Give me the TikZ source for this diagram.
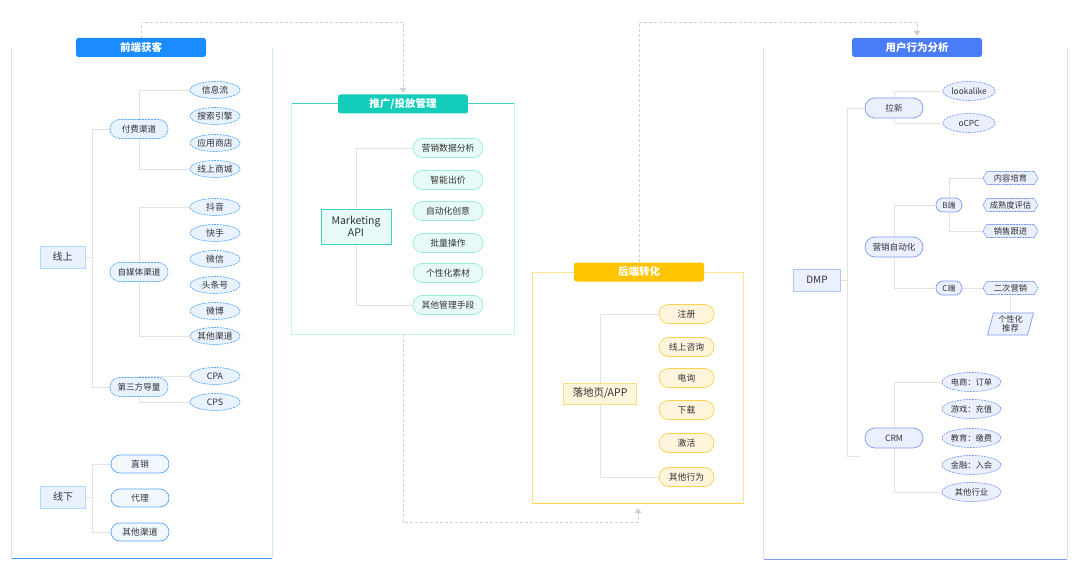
\documentclass[tikz,border=0pt]{standalone}
\usepackage{fontspec}
\setmainfont{Noto Sans CJK SC}
\usetikzlibrary{shapes.geometric,shapes.symbols,shapes.misc,arrows.meta,backgrounds,calc}
\definecolor{txt}{HTML}{333333}
\definecolor{lineg}{HTML}{E2E2E2}
\definecolor{dashg}{HTML}{D2D2D2}
\definecolor{arrg}{HTML}{CFCFCF}
% left blue
\definecolor{lH}{HTML}{1A8CFF}
\definecolor{lSide}{HTML}{CFE5FF}
\definecolor{lBot}{HTML}{3D9BFF}
\definecolor{lFill}{HTML}{E8F3FF}
\definecolor{lBord}{HTML}{56A8FF}
% teal
\definecolor{mH}{HTML}{14CCBA}
\definecolor{mSide}{HTML}{C5F3EE}
\definecolor{mTop}{HTML}{3FD3C4}
\definecolor{mFill}{HTML}{E7FAF7}
\definecolor{mBord}{HTML}{9CEBE1}
% yellow
\definecolor{bH}{HTML}{FFC400}
\definecolor{bSide}{HTML}{FFE28A}
\definecolor{bBot}{HTML}{FFD54F}
\definecolor{bFill}{HTML}{FFF4DC}
\definecolor{bBord}{HTML}{FFD24D}
% right periwinkle
\definecolor{rH}{HTML}{4A7CF7}
\definecolor{rSide}{HTML}{D3DDFB}
\definecolor{rBot}{HTML}{7E9CF4}
\definecolor{rFill}{HTML}{EBF0FE}
\definecolor{rBord}{HTML}{7F9BF5}
\tikzset{
  hdr/.style={rectangle, rounded corners=2.5pt, minimum width=130pt, minimum height=19pt, text=white, font=\fontsize{10.5}{12}\selectfont\bfseries},
  conn/.style={draw=lineg, line width=0.8pt},
  flow/.style={draw=dashg, line width=0.8pt, dash pattern=on 3pt off 2pt, -{Triangle[width=7pt,length=5pt,fill=arrg,color=arrg]}},
  lroot/.style={rectangle, fill=lFill, draw=lBord!45, line width=0.8pt, minimum width=45pt, minimum height=22pt, font=\fontsize{10}{11}\selectfont},
  lmid/.style={rounded rectangle, fill=lFill, draw=lBord, dash pattern=on 2pt off 1pt, line width=0.7pt, minimum width=58pt, minimum height=19pt, font=\fontsize{8.6}{10}\selectfont},
  lleaf/.style={ellipse, fill=lFill, draw=lBord, dash pattern=on 2pt off 1pt, line width=0.7pt, minimum width=50pt, minimum height=17pt},
  lsolid/.style={rounded rectangle, fill=lFill!60, draw=lBord, line width=0.7pt, minimum width=58pt, minimum height=18pt},
  mroot/.style={rectangle, fill=mFill, draw=mTop, line width=0.8pt, minimum width=70pt, minimum height=35pt, align=center, font=\fontsize{10.5}{12.5}\selectfont},
  mleaf/.style={rounded rectangle, fill=mFill, draw=mBord, line width=0.7pt, minimum width=70pt, minimum height=19pt},
  broot/.style={rectangle, fill=bFill, draw=bBord!70, line width=0.8pt, minimum width=73pt, minimum height=21pt, font=\fontsize{10.5}{12}\selectfont},
  bleaf/.style={rounded rectangle, fill=bFill, draw=bBord, line width=0.7pt, minimum width=55pt, minimum height=19pt},
  rroot/.style={rectangle, fill=rFill, draw=rBord!60, line width=0.8pt, minimum width=47pt, minimum height=22pt, font=\fontsize{10}{11}\selectfont},
  rmid/.style={rounded rectangle, fill=rFill, draw=rBord, line width=0.7pt, minimum width=58pt, minimum height=20pt, font=\fontsize{8.6}{10}\selectfont},
  rsmall/.style={rounded rectangle, fill=rFill, draw=rBord, line width=0.7pt, minimum width=26pt, minimum height=14pt, font=\fontsize{8}{9}\selectfont},
  rleaf/.style={ellipse, fill=rFill, draw=rBord, dash pattern=on 2pt off 1pt, line width=0.7pt, minimum width=#1, minimum height=19pt, font=\fontsize{8.3}{9.5}\selectfont},
  rleaf/.default=59pt,
  rhex/.style={signal, signal to=west and east, signal pointer angle=120, fill=rFill, draw=rBord, dash pattern=on 2pt off 0.7pt, line width=0.7pt, minimum width=55pt, minimum height=13pt, font=\fontsize{8.3}{9.5}\selectfont},
}
\begin{document}
\begin{tikzpicture}[x=1pt,y=-1pt, every node/.style={font=\fontsize{8.8}{10}\selectfont, text=txt, inner sep=0pt}]
\useasboundingbox (0,0) rectangle (1080,575);
% frames (invisible nodes used as anchors)
\node[minimum width=260pt, minimum height=510pt] (lf) at (142,303) {};
\node[minimum width=222pt, minimum height=230pt] (mf) at (403,219) {};
\node[minimum width=210pt, minimum height=230pt] (bf) at (638,388) {};
\node[minimum width=303pt, minimum height=511pt] (rf) at (915.5,303.5) {};

% ---------- left panel ----------
\node[hdr, fill=lH] (lh) at (141,47.5) {前端获客};
\node[lroot] (on) at (62.5,257) {线上};
\node[lmid] (pay) at (139,129) {付费渠道};
\node[lmid] (self) at (139,272) {自媒体渠道};
\node[lmid] (third) at (139,387) {第三方导量};
\node[lleaf] (p1) at (215,90) {信息流};
\node[lleaf] (p2) at (215,116) {搜索引擎};
\node[lleaf] (p3) at (215,143) {应用商店};
\node[lleaf] (p4) at (215,169) {线上商城};
\node[lleaf] (s1) at (215,207) {抖音};
\node[lleaf] (s2) at (215,233) {快手};
\node[lleaf] (s3) at (215,259) {微信};
\node[lleaf] (s4) at (215,285) {头条号};
\node[lleaf] (s5) at (215,311) {微博};
\node[lleaf] (s6) at (215,336) {其他渠道};
\node[lleaf] (t1) at (215,376) {CPA};
\node[lleaf] (t2) at (215,402) {CPS};
\node[lroot] (off) at (63,497) {线下};
\node[lsolid] (o1) at (140,464) {直销};
\node[lsolid] (o2) at (140,498) {代理};
\node[lsolid] (o3) at (140,532) {其他渠道};
\coordinate (jon) at (92,257);
\coordinate (joff) at (92,497);

% ---------- middle panel ----------
\node[hdr, fill=mH] (mh) at (403,104) {推广/投放管理};
\node[mroot] (api) at (356,226.5) {Marketing\\API};
\node[mleaf] (m1) at (448,148) {营销数据分析};
\node[mleaf] (m2) at (448,180) {智能出价};
\node[mleaf] (m3) at (448,211) {自动化创意};
\node[mleaf] (m4) at (448,243) {批量操作};
\node[mleaf] (m5) at (448,273) {个性化素材};
\node[mleaf] (m6) at (448,305) {其他管理手段};

% ---------- backend panel ----------
\node[hdr, fill=bH] (bh) at (639,272) {后端转化};
\node[broot] (app) at (600,393.5) {落地页/APP};
\node[bleaf] (b1) at (686.5,314) {注册};
\node[bleaf] (b2) at (686.5,347) {线上咨询};
\node[bleaf] (b3) at (686.5,378) {电询};
\node[bleaf] (b4) at (686.5,410) {下载};
\node[bleaf] (b5) at (686.5,443) {激活};
\node[bleaf] (b6) at (686.5,477) {其他行为};

% ---------- right panel ----------
\node[hdr, fill=rH] (rh) at (917,47.5) {用户行为分析};
\node[rroot] (dmp) at (817,280) {DMP};
\node[rmid] (lx) at (894,108) {拉新};
\node[rmid] (auto) at (894,247) {营销自动化};
\node[rmid] (crm) at (894,438) {CRM};
\node[rleaf=52pt] (lk) at (969,91) {lookalike};
\node[rleaf=52pt] (oc) at (969,123) {oCPC};
\node[rsmall] (bd) at (949,205) {B端};
\node[rsmall] (cd) at (949,288) {C端};
\node[rhex] (h1) at (1010.5,178) {内容培育};
\node[rhex] (h2) at (1010.5,205) {成熟度评估};
\node[rhex] (h3) at (1010.5,231) {销售跟进};
\node[rhex] (h4) at (1010.5,288) {二次营销};
\node[align=center, font=\fontsize{8.3}{9.5}\selectfont] (pr) at (1010.5,324) {个性化\\推荐};
\node[rleaf] (e1) at (971.5,382) {电商：订单};
\node[rleaf] (e2) at (971.5,409) {游戏：充值};
\node[rleaf] (e3) at (971.5,438) {教育：缴费};
\node[rleaf] (e4) at (971.5,465) {金融：入会};
\node[rleaf] (e5) at (971.5,492) {其他行业};
\coordinate (jdmp) at (847,280);
\coordinate (jcrm) at (860,456);

\begin{scope}[on background layer]
  \fill[white] (0,0) rectangle (1080,575);
  % frames
  \draw[lSide, line width=1pt] (lf.north west) -- (lf.south west);
  \draw[lSide, line width=1pt] (lf.north east) -- (lf.south east);
  \draw[lBot, line width=1.2pt] (lf.south west) -- (lf.south east);
  \draw[mSide, line width=1pt] (mf.north west) rectangle (mf.south east);
  \draw[mTop, line width=1pt] (mf.north west) -- (mf.north east);
  \draw[bSide, line width=1pt] (bf.north west) rectangle (bf.south east);
  \draw[bBot, line width=1.2pt] (bf.south west) -- (bf.south east);
  \draw[rSide, line width=1pt] (rf.north west) -- (rf.south west);
  \draw[rSide, line width=1.2pt] (rf.north east) -- (rf.south east);
  \draw[rBot, line width=1.2pt] (rf.south west) -- (rf.south east);
  % left connectors
  \draw[conn] (on.east) -- (jon);
  \draw[conn] (pay.west) -| (jon);
  \draw[conn] (third.west) -| (jon);
  \draw[conn] (p1.west) -| (pay.center);
  \draw[conn] (p4.west) -| (pay.center);
  \draw[conn] (s1.west) -| (self.center);
  \draw[conn] (s6.west) -| (self.center);
  \draw[conn] (t1.west) -| (third.center);
  \draw[conn] (t2.west) -| (third.center);
  \draw[conn] (off.east) -- (joff);
  \draw[conn] (o1.west) -| (joff);
  \draw[conn] (o3.west) -| (joff);
  % middle connectors
  \draw[conn] (m1.west) -| (api.center);
  \draw[conn] (m6.west) -| (api.center);
  % backend connectors
  \draw[conn] (b1.west) -| (app.center);
  \draw[conn] (b6.west) -| (app.center);
  % right connectors
  \draw[conn] (dmp.east) -- (jdmp);
  \draw[conn] (lx.west) -| (jdmp);
  \draw[conn] (jcrm) -| (jdmp);
  \draw[conn] (lk.west) -| (lx.center);
  \draw[conn] (oc.west) -| (lx.center);
  \draw[conn] (bd.west) -| (auto.center);
  \draw[conn] (cd.west) -| (auto.center);
  \draw[conn] (h1.west) -| (bd.center);
  \draw[conn] (h3.west) -| (bd.center);
  \draw[conn] (cd.east) -- (h4.west);
  \draw[conn] (h4.south) -- (pr.north);
  \draw[conn] (e1.west) -| (crm.center);
  \draw[conn] (e5.west) -| (crm.center);
  % parallelogram behind 个性化推荐
  \draw[fill=rFill, draw=rBord, line width=0.7pt] ($(pr)+(-17,-11)$) -- ($(pr)+(23,-11)$) -- ($(pr)+(17,11)$) -- ($(pr)+(-23,11)$) -- cycle;
  % flow arrows
  \coordinate (f1) at (141,22);
  \coordinate (f2) at (403,522);
  \coordinate (f3) at (639,22);
  \draw[flow, shorten >=1.5pt] (lh.north) -- (f1) -| (mh.north);
  \draw[flow, shorten >=5pt] (mf.south) -- (f2) -| (bf.south);
  \draw[flow, shorten >=2pt] (bh.north) -- (f3) -| (rh.north);
\end{scope}
\end{tikzpicture}
\end{document}
